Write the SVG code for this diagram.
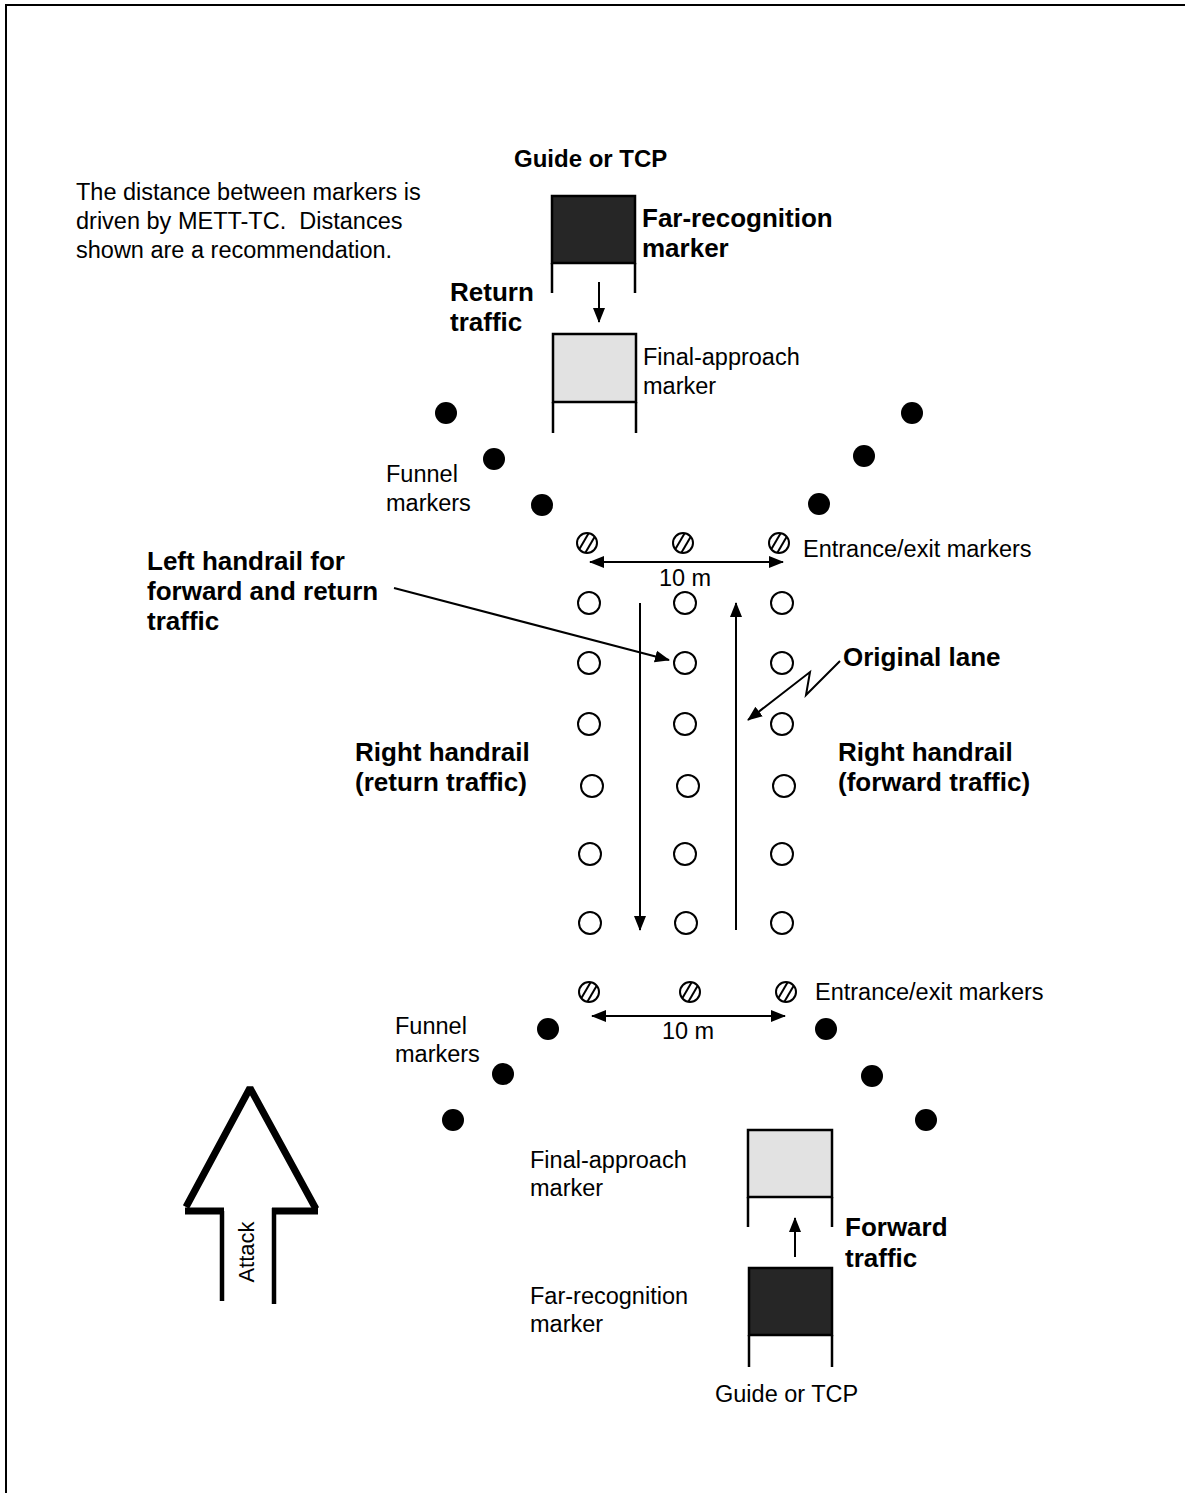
<svg xmlns="http://www.w3.org/2000/svg" width="1185" height="1493" viewBox="0 0 1185 1493">
<style>
text{font-family:"Liberation Sans",Arial,sans-serif;fill:#000}
.r{font-size:23.5px}
.b{font-size:26px;font-weight:bold}
.ln{stroke:#000;stroke-width:2;fill:none}
.lc{fill:#fff;stroke:#000;stroke-width:2}
.fd{fill:#000}
.dk{fill:#262626;stroke:#000;stroke-width:2.5}
.lt{fill:#e2e2e2;stroke:#000;stroke-width:2.5}
.leg{stroke:#000;stroke-width:2.5}
</style>
<defs>
<marker id="ah" markerUnits="userSpaceOnUse" markerWidth="16" markerHeight="14" refX="14" refY="6" orient="auto-start-reverse" viewBox="0 0 16 12">
<path d="M0,0 L15,6 L0,12 Z" fill="#000"/>
</marker>
<g id="hm">
<circle r="10" fill="#fff" stroke="#000" stroke-width="2"/>
<line x1="1.65" y1="-9.86" x2="-7.71" y2="6.36" stroke="#000" stroke-width="2"/>
<line x1="7.71" y1="-6.36" x2="-1.65" y2="9.86" stroke="#000" stroke-width="2"/>
</g>
</defs>
<rect width="1185" height="1493" fill="#fff"/>
<path d="M6,1493 L6,5 L1185,5" class="ln"/>

<g id="note">
<text class="r" x="76" y="200">The distance between markers is</text>
<text class="r" x="76" y="229" xml:space="preserve">driven by METT-TC.  Distances</text>
<text class="r" x="76" y="258">shown are a recommendation.</text>
</g>

<g id="top-guide"><text class="b" x="514" y="167" style="font-size:24px">Guide or TCP</text></g>
<g id="top-far">
<rect class="dk" x="552" y="196" width="83" height="67"/>
<line class="leg" x1="552" y1="263" x2="552" y2="293"/>
<line class="leg" x1="635" y1="263" x2="635" y2="293"/>
<text class="b" x="642" y="227">Far-recognition</text>
<text class="b" x="642" y="257">marker</text>
</g>
<g id="return-label">
<text class="b" x="450" y="301">Return</text>
<text class="b" x="450" y="331">traffic</text>
</g>
<g id="top-final">
<rect class="lt" x="553" y="334" width="83" height="68"/>
<line class="leg" x1="553" y1="402" x2="553" y2="433"/>
<line class="leg" x1="636" y1="402" x2="636" y2="433"/>
<text class="r" x="643" y="365">Final-approach</text>
<text class="r" x="643" y="394">marker</text>
</g>

<g id="top-funnel">
<circle class="fd" cx="446" cy="413" r="11"/>
<circle class="fd" cx="494" cy="459" r="11"/>
<circle class="fd" cx="542" cy="505" r="11"/>
<circle class="fd" cx="912" cy="413" r="11"/>
<circle class="fd" cx="864" cy="456" r="11"/>
<circle class="fd" cx="819" cy="504" r="11"/>
<text class="r" x="386" y="482">Funnel</text>
<text class="r" x="386" y="511">markers</text>
</g>

<g id="top-entrance">
<use href="#hm" x="587" y="543"/>
<use href="#hm" x="683" y="543"/>
<use href="#hm" x="779" y="543"/>
<text class="r" x="803" y="557">Entrance/exit markers</text>
<text class="r" x="685" y="586" text-anchor="middle">10 m</text>
</g>

<g id="lane">
<circle class="lc" cx="589" cy="603" r="11"/>
<circle class="lc" cx="685" cy="603" r="11"/>
<circle class="lc" cx="782" cy="603" r="11"/>
<circle class="lc" cx="589" cy="663" r="11"/>
<circle class="lc" cx="685" cy="663" r="11"/>
<circle class="lc" cx="782" cy="663" r="11"/>
<circle class="lc" cx="589" cy="724" r="11"/>
<circle class="lc" cx="685" cy="724" r="11"/>
<circle class="lc" cx="782" cy="724" r="11"/>
<circle class="lc" cx="592" cy="786" r="11"/>
<circle class="lc" cx="688" cy="786" r="11"/>
<circle class="lc" cx="784" cy="786" r="11"/>
<circle class="lc" cx="590" cy="854" r="11"/>
<circle class="lc" cx="685" cy="854" r="11"/>
<circle class="lc" cx="782" cy="854" r="11"/>
<circle class="lc" cx="590" cy="923" r="11"/>
<circle class="lc" cx="686" cy="923" r="11"/>
<circle class="lc" cx="782" cy="923" r="11"/>
</g>

<g id="labels-mid">
<text class="b" x="147" y="570">Left handrail for</text>
<text class="b" x="147" y="600">forward and return</text>
<text class="b" x="147" y="630">traffic</text>
<text class="b" x="843" y="666">Original lane</text>
<text class="b" x="355" y="761">Right handrail</text>
<text class="b" x="355" y="791">(return traffic)</text>
<text class="b" x="838" y="761">Right handrail</text>
<text class="b" x="838" y="791">(forward traffic)</text>
</g>

<g id="bottom-entrance">
<use href="#hm" x="589" y="992"/>
<use href="#hm" x="690" y="992"/>
<use href="#hm" x="786" y="992"/>
<text class="r" x="815" y="1000">Entrance/exit markers</text>
<text class="r" x="688" y="1039" text-anchor="middle">10 m</text>
</g>

<g id="bottom-funnel">
<circle class="fd" cx="548" cy="1029" r="11"/>
<circle class="fd" cx="503" cy="1074" r="11"/>
<circle class="fd" cx="453" cy="1120" r="11"/>
<circle class="fd" cx="826" cy="1029" r="11"/>
<circle class="fd" cx="872" cy="1076" r="11"/>
<circle class="fd" cx="926" cy="1120" r="11"/>
<text class="r" x="395" y="1034">Funnel</text>
<text class="r" x="395" y="1062">markers</text>
</g>

<g id="bottom-final">
<rect class="lt" x="748" y="1130" width="84" height="67"/>
<line class="leg" x1="748" y1="1197" x2="748" y2="1227"/>
<line class="leg" x1="832" y1="1197" x2="832" y2="1227"/>
<text class="r" x="530" y="1168">Final-approach</text>
<text class="r" x="530" y="1196">marker</text>
</g>
<g id="forward-label">
<text class="b" x="845" y="1236">Forward</text>
<text class="b" x="845" y="1267">traffic</text>
</g>
<g id="bottom-far">
<rect class="dk" x="749" y="1268" width="83" height="67"/>
<line class="leg" x1="749" y1="1335" x2="749" y2="1367"/>
<line class="leg" x1="832" y1="1335" x2="832" y2="1367"/>
<text class="r" x="530" y="1304">Far-recognition</text>
<text class="r" x="530" y="1332">marker</text>
</g>
<g id="bottom-guide"><text class="r" x="715" y="1402">Guide or TCP</text></g>

<g id="attack">
<path d="M186,1207 L250,1088 L316,1209" fill="none" stroke="#000" stroke-width="7" stroke-linejoin="bevel"/>
<line x1="185" y1="1211" x2="224" y2="1211" stroke="#000" stroke-width="7"/>
<line x1="272" y1="1211" x2="318" y2="1211" stroke="#000" stroke-width="7"/>
<line x1="222" y1="1211" x2="222" y2="1301" stroke="#000" stroke-width="4.5"/>
<line x1="274" y1="1208" x2="274" y2="1304" stroke="#000" stroke-width="4.5"/>
<text x="0" y="0" transform="translate(254,1252) rotate(-90)" text-anchor="middle" style="font-size:22px">Attack</text>
</g>

<g id="connectors" stroke="#000" stroke-width="2" fill="none">
<line x1="599" y1="282" x2="599" y2="322" marker-end="url(#ah)"/>
<line x1="795" y1="1257" x2="795" y2="1218" marker-end="url(#ah)"/>
<line x1="590" y1="562" x2="783" y2="562" marker-start="url(#ah)" marker-end="url(#ah)"/>
<line x1="592" y1="1016" x2="785" y2="1016" marker-start="url(#ah)" marker-end="url(#ah)"/>
<line x1="640" y1="603" x2="640" y2="930" marker-end="url(#ah)"/>
<line x1="736" y1="930" x2="736" y2="603" marker-end="url(#ah)"/>
<line x1="394" y1="588" x2="669" y2="660" marker-end="url(#ah)"/>
<path d="M840,661 L806,695 L810,672 L748,720" marker-end="url(#ah)"/>
</g>
</svg>
